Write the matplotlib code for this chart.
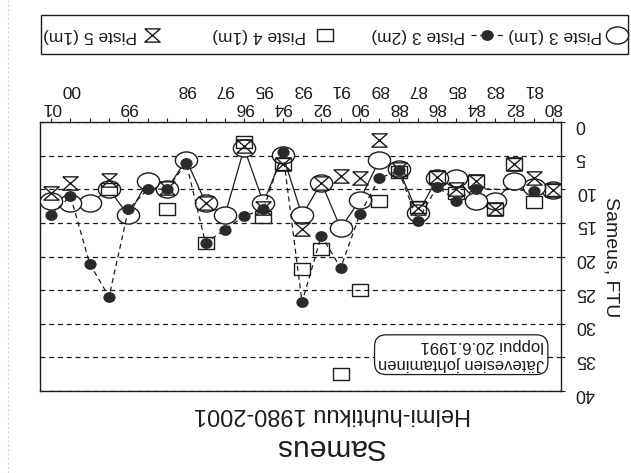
import numpy as np
import matplotlib
matplotlib.use("Agg")
import matplotlib.pyplot as plt
from matplotlib.path import Path
from matplotlib.lines import Line2D
from matplotlib.patches import Rectangle

plt.rcParams['font.family'] = ['Liberation Sans', 'DejaVu Sans']

nan = np.nan

# Sampling occasions (Feb-Apr), in chronological order
tick_labels = ['80', '81', '82', '83', '84', '85', '86', '87', '88', '89',
               '90', '91', '92', '93', '94', '95', '96', '97', '', '98',
               '', '', '99', '', '', '00', '01']
# 0 = inner label row, 1 = outer label row
label_row = [0, 1, 0, 1, 0, 1, 0, 1, 0, 1,
             0, 1, 0, 1, 0, 1, 0, 1, 1, 1,
             1, 1, 0, 1, 1, 1, 0]

# Turbidity, FTU
piste3_1m = [10.1, 9.6, 8.7, 11.7, 11.7, 8.4, 8.4, 13.6, 7.0, 5.7,
             11.6, 15.8, 9.0, 13.9, 4.9, 12.0, 3.9, 13.9, 12.0, 5.6,
             10.0, 8.8, 13.9, 10.0, 12.1, 12.1, 11.8]
piste3_2m = [nan, 10.2, nan, nan, 9.9, 11.7, 9.6, 14.7, 7.2, 8.4,
             13.7, 21.7, 16.9, 26.8, 4.4, 13.0, 14.0, 16.0, 18.0, 6.1,
             10.0, 10.0, 13.0, 26.0, 21.1, 11.0, 13.8]
piste4_1m = [10.1, 11.9, 6.2, 12.9, 8.8, 10.5, 8.2, 12.6, 7.5, 11.7,
             25.0, 37.5, 18.9, 21.8, 6.3, 14.2, 2.9, nan, 18.0, nan,
             13.0, nan, nan, 10.0, nan, nan, nan]
piste5_1m = [10.1, 8.4, 6.2, 12.9, 8.8, 9.9, 8.2, 12.8, 7.0, 2.7,
             8.4, 8.0, 9.0, 15.9, 6.3, 12.8, 3.6, nan, 12.0, nan,
             9.8, nan, nan, 8.6, nan, 9.0, 10.5]

series_names = ['Piste 3 (1m)', 'Piste 3 (2m)', 'Piste 4 (1m)', 'Piste 5 (1m)']
y_ticks = [0, 5, 10, 15, 20, 25, 30, 35, 40]

ink = '#1c1c1c'


def ellipse(sx, sy):
    c = Path.unit_circle()
    return Path(c.vertices * np.array([sx, sy]), c.codes)


def rect(sx, sy):
    v = np.array([[-1, -1], [1, -1], [1, 1], [-1, 1], [-1, -1]]) * np.array([sx, sy])
    return Path(v, [Path.MOVETO] + [Path.LINETO] * 3 + [Path.CLOSEPOLY])


def hourglass(sx, sy):
    v = np.array([[-1, 1], [1, 1], [-1, -1], [1, -1], [-1, 1]]) * np.array([sx, sy])
    return Path(v, [Path.MOVETO] + [Path.LINETO] * 4)


m_ell = ellipse(1.3, 1.0)
m_dot = ellipse(1.15, 1.0)
m_sq = rect(1.3, 1.0)
m_hg = hourglass(1.15, 1.0)

W, H = 631, 473
fig = plt.figure(figsize=(W / 100, H / 100), dpi=100)
fig.patch.set_facecolor('white')

# the whole sheet is turned upside down: axes inverted, text rotated 180 degrees
ax = fig.add_axes([40 / W, 1 - 391 / H, 521 / W, 269 / H])
x = np.arange(len(tick_labels))
ax.set_xlim(26.58, -0.42)
ax.set_ylim(40, 0)

for s in ax.spines.values():
    s.set_color(ink)
    s.set_linewidth(1.0)

ax.yaxis.tick_right()
ax.set_yticks(y_ticks)
ax.set_yticklabels([str(v) for v in y_ticks], rotation=180)
ax.tick_params(axis='y', direction='out', length=3, width=0.8, pad=7,
               labelsize=13, colors=ink)
ax.grid(axis='y', color=ink, linestyle=(0, (4, 3)), linewidth=0.9)
ax.set_axisbelow(True)

ax.xaxis.tick_top()
inner = [i for i in x if label_row[i] == 0]
outer = [i for i in x if label_row[i] == 1]
ax.set_xticks(inner)
ax.set_xticklabels([tick_labels[i] for i in inner], rotation=180)
ax.set_xticks(outer, minor=True)
ax.set_xticklabels([tick_labels[i] for i in outer], minor=True, rotation=180)
ax.tick_params(axis='x', which='both', direction='out', length=3, width=0.8,
               labelsize=12.5, colors=ink, top=True, bottom=False,
               labeltop=True, labelbottom=False)
ax.tick_params(axis='x', which='major', pad=2.4)
ax.tick_params(axis='x', which='minor', pad=15.3)

p3 = np.array(piste3_1m)
p3b = np.array(piste3_2m)
p4 = np.array(piste4_1m)
p5 = np.array(piste5_1m)

ax.plot(x, p3, color=ink, lw=0.9, marker=m_ell, ms=16, mfc='white',
        mec=ink, mew=1.0, zorder=3)
ax.plot(x, p4, ls='none', marker=m_sq, ms=12, mfc='none', mec=ink,
        mew=1.0, zorder=4)
ax.plot(x, p5, ls='none', marker=m_hg, ms=11, mfc='none', mec=ink,
        mew=1.0, zorder=5)
ok = ~np.isnan(p3b)
ax.plot(x[ok], p3b[ok], color=ink, lw=0.9, ls=(0, (4, 3)), marker=m_dot,
        ms=7.8, mfc='#2a2a2a', mec='#2a2a2a', zorder=6)

ax.text(0.45, 34.6, 'Jätevesien johtaminen\nloppui 20.6.1991', rotation=180,
        ha='right', va='center', multialignment='left', fontsize=12,
        color=ink, zorder=7,
        bbox=dict(boxstyle='round,pad=0.22,rounding_size=0.7', fc='white',
                  ec=ink, lw=0.9))

# titles and axis name
fig.text(330 / W, 1 - 447 / H, 'Sameus', rotation=180, ha='center',
         va='center', fontsize=21.5, color=ink)
fig.text(332 / W, 1 - 414 / H, 'Helmi-huhtikuu 1980-2001', rotation=180,
         ha='center', va='center', fontsize=17, color=ink)
fig.text(611 / W, 1 - 257 / H, 'Sameus, FTU', rotation=270, ha='center',
         va='center', fontsize=14, color=ink)

# key along the top edge
fig.add_artist(Rectangle((41 / W, 1 - 54 / H), 587 / W, 39 / H,
                         transform=fig.transFigure, fill=False, ec=ink, lw=1.0))
ky = 1 - 35 / H
key_marker_x = [617, 487, 325, 152]
key_text_x = [602, 465, 306, 137]
styles = [dict(marker=m_ell, ms=16, mfc='white', mec=ink, mew=1.0),
          dict(marker=m_dot, ms=7.8, mfc='#2a2a2a', mec='#2a2a2a'),
          dict(marker=m_sq, ms=12, mfc='none', mec=ink, mew=1.0),
          dict(marker=m_hg, ms=11, mfc='none', mec=ink, mew=1.0)]
for name, mx, tx, st in zip(series_names, key_marker_x, key_text_x, styles):
    if name == 'Piste 3 (2m)':
        fig.add_artist(Line2D([(mx - 16) / W, (mx + 16) / W], [ky, ky],
                              transform=fig.transFigure, color=ink, lw=0.9,
                              ls=(0, (4, 3))))
    fig.add_artist(Line2D([mx / W], [ky], transform=fig.transFigure,
                          ls='none', **st))
    fig.text(tx / W, ky, name, rotation=180, ha='right', va='center',
             fontsize=12.5, color=ink)

# faint fold marks of the scanned sheet
fig.add_artist(Line2D([8 / W, 8 / W], [0, 1], transform=fig.transFigure,
                      color='#d4d4d4', lw=0.8, ls=(0, (2, 2))))

fig.savefig('out.png', dpi=100, facecolor='white')
